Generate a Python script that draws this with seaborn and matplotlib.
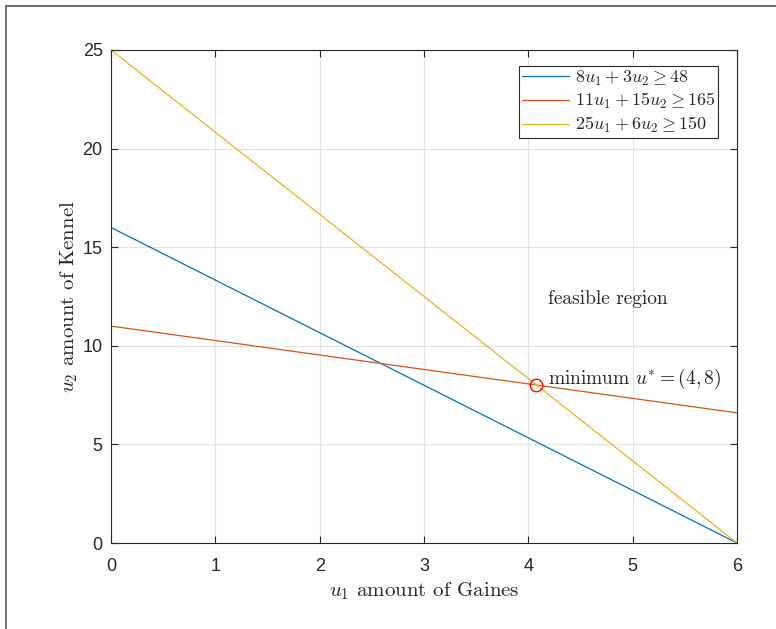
import numpy as np
import pandas as pd
import matplotlib
matplotlib.use("Agg")
import matplotlib.pyplot as plt
from matplotlib.lines import Line2D
import seaborn as sns

# Constraint coefficients: a*u1 + b*u2 >= c
coef_a = [8, 11, 25]
coef_b = [3, 15, 6]
coef_c = [48, 165, 150]
labels = [r"$8u_1 + 3u_2 \geq 48$",
          r"$11u_1 + 15u_2 \geq 165$",
          r"$25u_1 + 6u_2 \geq 150$"]
colors = ["#0072BD", "#D95319", "#EDB120"]

u1_range = [0, 6]
x_ticks = [0, 1, 2, 3, 4, 5, 6]
y_ticks = [0, 5, 10, 15, 20, 25]

# Boundary lines at the two ends of the u1 range
rows = []
for a, b, c, lab in zip(coef_a, coef_b, coef_c, labels):
    for u in u1_range:
        rows.append({"u1": u, "u2": (c - a * u) / b, "constraint": lab})
df = pd.DataFrame(rows)

# Optimum: intersection of the 2nd and 3rd constraints
u_star = np.linalg.solve([[coef_a[1], coef_b[1]], [coef_a[2], coef_b[2]]],
                         [coef_c[1], coef_c[2]])

sns.set_style("whitegrid", {
    "axes.edgecolor": "#262626",
    "grid.color": "#e3e3e3",
    "xtick.direction": "in",
    "ytick.direction": "in",
    "xtick.top": True,
    "ytick.right": True,
    "xtick.bottom": True,
    "ytick.left": True,
})
plt.rcParams["font.family"] = ["Liberation Sans", "DejaVu Sans"]
plt.rcParams["mathtext.fontset"] = "cm"

fig = plt.figure(figsize=(7.76, 6.29), dpi=100)
ax = fig.add_axes([111 / 776, 1 - 543 / 629, 626 / 776, 493 / 629])

sns.lineplot(data=df, x="u1", y="u2", hue="constraint", palette=colors,
             linewidth=0.9, ax=ax, legend=True)
ax.plot(u_star[0], u_star[1], "o", mfc="none", mec="#ff0000",
        ms=9, mew=1.0, zorder=5)

ax.set_xlim(0, 6)
ax.set_ylim(0, 25)
ax.set_xticks(x_ticks)
ax.set_yticks(y_ticks)
ax.tick_params(labelsize=13, length=5, width=0.8, color="#262626",
               labelcolor="#262626")
ax.tick_params(axis="x", pad=11)
ax.tick_params(axis="y", pad=6)
for s in ax.spines.values():
    s.set_linewidth(0.8)
ax.grid(True, linewidth=0.8)

ax.set_xlabel(r"$u_1$ amount of Gaines", family="cmr10", fontsize=15,
              labelpad=4)
ax.set_ylabel(r"$u_2$ amount of Kennel", family="cmr10", fontsize=15,
              labelpad=2)

ax.text(4.19, 12.37, "feasible region", family="cmr10", fontsize=14,
        va="center", ha="left")
ax.text(4.19, 8.3,
        r"minimum $u^{*} = (%d, %d)$" % (round(u_star[0]), round(u_star[1])),
        family="cmr10", fontsize=14, va="center", ha="left")

leg = ax.legend(loc="upper right", bbox_to_anchor=(0.970, 0.9675),
                borderaxespad=0, fontsize=13, frameon=True, fancybox=False,
                framealpha=1, edgecolor="#262626", handlelength=2.6,
                handletextpad=0.35, labelspacing=0.2, borderpad=0.15,
                title=None)
leg.get_frame().set_linewidth(0.8)

# Outer figure frame on the left and top edges
fig.add_artist(Line2D([5.5 / 776, 5.5 / 776], [0, 1 - 5.5 / 629],
                      color="#555555", linewidth=1.2))
fig.add_artist(Line2D([5.5 / 776, 1], [1 - 5.5 / 629, 1 - 5.5 / 629],
                      color="#555555", linewidth=1.2))

fig.savefig("out.png", dpi=100)
